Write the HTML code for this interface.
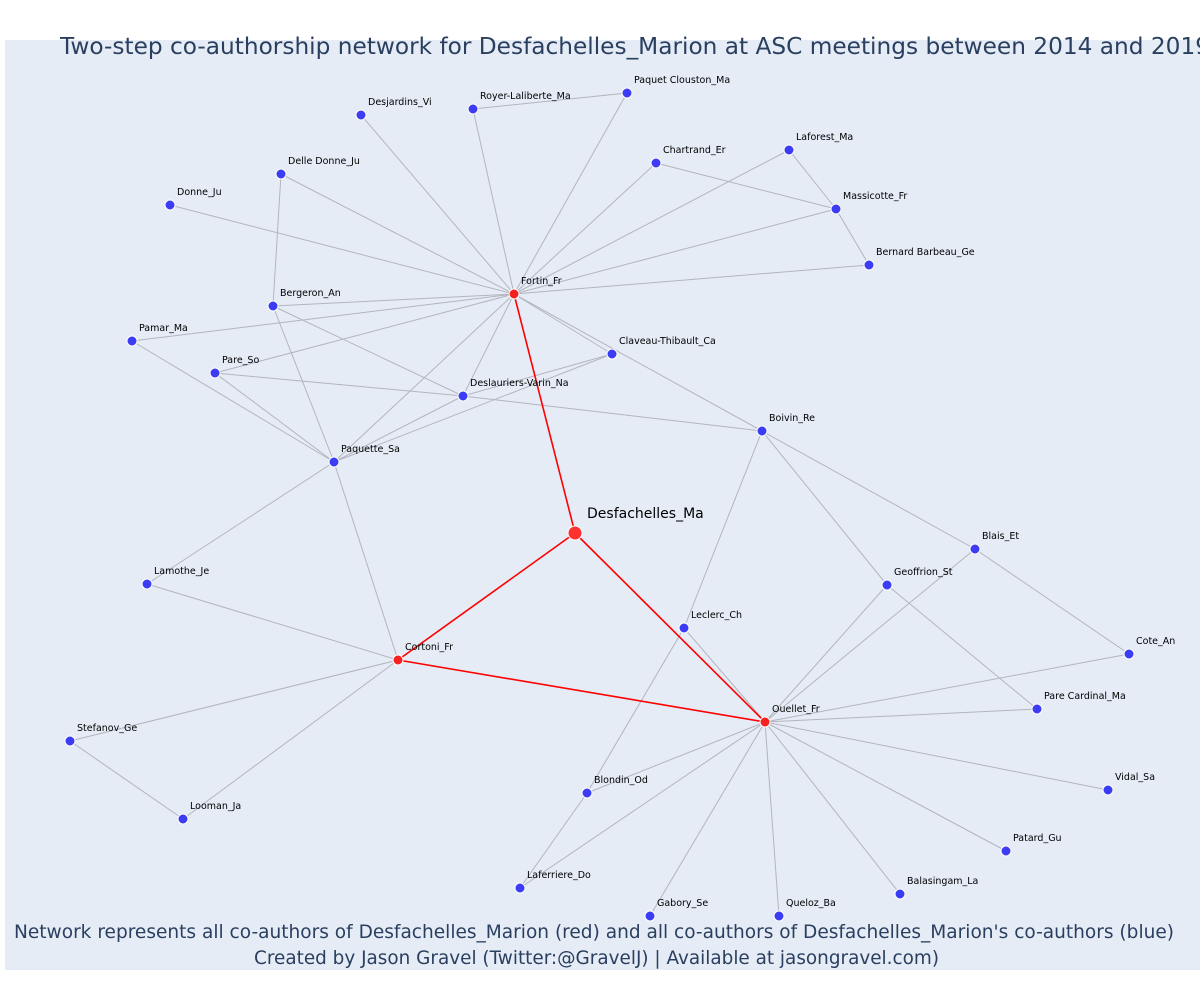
<!DOCTYPE html>
<html><head><meta charset="utf-8"><style>
body{margin:0;background:#fff;}
svg text{font-family:"DejaVu Sans","Liberation Sans",sans-serif;}
</style></head><body>
<svg width="1200" height="1000" xmlns="http://www.w3.org/2000/svg">
<rect x="5" y="40" width="1195" height="930" fill="#e5ecf6"/>
<g id="edges"></g>
<g id="nodes"></g>
<text x="60" y="54" font-size="23" fill="#2a3f5f" textLength="1150" lengthAdjust="spacingAndGlyphs">Two-step co-authorship network for Desfachelles_Marion at ASC meetings between 2014 and 2019</text>
<text x="14" y="938" font-size="19" fill="#2a3f5f" textLength="1160" lengthAdjust="spacingAndGlyphs">Network represents all co-authors of Desfachelles_Marion (red) and all co-authors of Desfachelles_Marion's co-authors (blue)</text>
<text x="254" y="964" font-size="19" fill="#2a3f5f" textLength="685" lengthAdjust="spacingAndGlyphs">Created by Jason Gravel (Twitter:@GravelJ) | Available at jasongravel.com)</text>
</svg>
<script>
const nodeNames=["Desfachelles_Ma","Fortin_Fr","Cortoni_Fr","Ouellet_Fr","Desjardins_Vi","Royer-Laliberte_Ma","Paquet Clouston_Ma","Chartrand_Er","Laforest_Ma","Massicotte_Fr","Bernard Barbeau_Ge","Delle Donne_Ju","Donne_Ju","Bergeron_An","Pamar_Ma","Pare_So","Deslauriers-Varin_Na","Claveau-Thibault_Ca","Paquette_Sa","Boivin_Re","Lamothe_Je","Blais_Et","Geoffrion_St","Leclerc_Ch","Cote_An","Pare Cardinal_Ma","Stefanov_Ge","Looman_Ja","Blondin_Od","Vidal_Sa","Patard_Gu","Laferriere_Do","Balasingam_La","Gabory_Se","Queloz_Ba"];
const nodeX=[575,514,398,765,361,473,627,656,789,836,869,281,170,273,132,215,463,612,334,762,147,975,887,684,1129,1037,70,183,587,1108,1006,520,900,650,779];
const nodeY=[533,294,660,722,115,109,93,163,150,209,265,174,205,306,341,373,396,354,462,431,584,549,585,628,654,709,741,819,793,790,851,888,894,916,916];
const nodeGroup=[0,1,1,1,2,2,2,2,2,2,2,2,2,2,2,2,2,2,2,2,2,2,2,2,2,2,2,2,2,2,2,2,2,2,2];
const redEdges=[[0,1],[0,2],[0,3],[2,3]];
const greyEdges=[[1,4],[1,5],[1,6],[1,7],[1,8],[1,9],[1,10],[1,11],[1,12],[1,13],[1,14],[1,15],[1,16],[1,17],[1,18],[1,19],[5,6],[7,9],[8,9],[9,10],[11,13],[13,16],[13,18],[14,18],[15,18],[15,16],[16,19],[18,16],[18,17],[16,17],[18,20],[18,2],[20,2],[2,26],[2,27],[26,27],[19,23],[23,28],[28,31],[19,22],[19,21],[21,3],[21,24],[22,3],[22,25],[23,3],[3,24],[3,25],[3,29],[3,30],[3,32],[3,34],[3,33],[3,31],[3,28]];
const NS="http://www.w3.org/2000/svg";
const eg=document.getElementById('edges'),ng=document.getElementById('nodes');
function line(a,b,col,w){const l=document.createElementNS(NS,'line');
l.setAttribute('x1',nodeX[a]);l.setAttribute('y1',nodeY[a]);l.setAttribute('x2',nodeX[b]);l.setAttribute('y2',nodeY[b]);
l.setAttribute('stroke',col);l.setAttribute('stroke-width',w);


eg.appendChild(l);}
greyEdges.forEach(e=>line(e[0],e[1],'#b4b4be',1));
redEdges.forEach(e=>line(e[0],e[1],'#ff0000',1.6));
nodeNames.forEach((n,i)=>{
 const g=nodeGroup[i];
 const c=document.createElementNS(NS,'circle');
 c.setAttribute('cx',nodeX[i]);c.setAttribute('cy',nodeY[i]);
 c.setAttribute('r',g===0?7:5);
 c.setAttribute('fill',g===2?'#3c3cf5':(g===0?'#ff3030':'#f52020'));
 c.setAttribute('stroke','#fff');c.setAttribute('stroke-width',1);
 
 
 ng.appendChild(c);
 const t=document.createElementNS(NS,'text');
 t.setAttribute('x',nodeX[i]+(g===0?12:7));t.setAttribute('y',nodeY[i]-(g===0?15:10));
 t.setAttribute('font-size',g===0?14:9.5);t.setAttribute('fill','#000');
 t.textContent=n;
 
 
 ng.appendChild(t);
});
</script>
</body></html>
